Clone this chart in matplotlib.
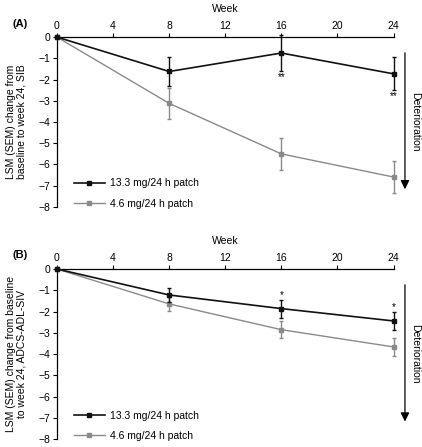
import matplotlib
matplotlib.use('Agg')
import matplotlib.pyplot as plt
from matplotlib.lines import Line2D

plt.rcParams['font.family'] = ['Liberation Sans', 'DejaVu Sans']
plt.rcParams['font.size'] = 7.5

# data
weeks = [0, 8, 16, 24]
week_ticks = [0, 4, 8, 12, 16, 20, 24]
y_ticks = [0, -1, -2, -3, -4, -5, -6, -7, -8]
labels = ['13.3 mg/24 h patch', '4.6 mg/24 h patch']

sib_high = [0, -1.62, -0.75, -1.73]
sib_high_sem = [0, 0.67, 0.83, 0.77]
sib_low = [0, -3.12, -5.50, -6.59]
sib_low_sem = [0, 0.72, 0.75, 0.77]
sib_stars = ['', '', '**', '**']

adl_high = [0, -1.22, -1.86, -2.44]
adl_high_sem = [0, 0.34, 0.42, 0.43]
adl_low = [0, -1.64, -2.85, -3.66]
adl_low_sem = [0, 0.33, 0.40, 0.44]
adl_stars = ['', '', '*', '*']

black = '#111111'
grey = '#8a8a8a'

fig = plt.figure(figsize=(4.22, 4.47), dpi=100)
axA = fig.add_axes([0.135, 0.537, 0.7975, 0.380])
axB = fig.add_axes([0.135, 0.0172, 0.7975, 0.381])


def panel(ax, high, high_sem, low, low_sem, stars, below, ylabel, tag):
	ax.errorbar(weeks, low, yerr=low_sem, color=grey, lw=1.0, marker='s', ms=3.3,
		capsize=1.6, elinewidth=1.0, clip_on=False, zorder=3)
	ax.errorbar(weeks, high, yerr=high_sem, color=black, lw=1.2, marker='s', ms=3.3,
		capsize=1.6, elinewidth=1.0, clip_on=False, zorder=4)
	for i in range(len(weeks)):
		if stars[i]:
			if below:
				ax.text(weeks[i], high[i] - high_sem[i] - 0.3, stars[i], ha='center', va='center', fontsize=7)
			else:
				ax.text(weeks[i], high[i] + high_sem[i] + 0.22, stars[i], ha='center', va='center', fontsize=7)
	ax.set_xlim(0, 24)
	ax.set_ylim(-8, 0)
	ax.xaxis.tick_top()
	ax.xaxis.set_label_position('top')
	ax.set_xticks(week_ticks)
	ax.set_yticks(y_ticks)
	ax.spines['bottom'].set_visible(False)
	ax.spines['right'].set_visible(False)
	ax.spines['top'].set_linewidth(0.9)
	ax.spines['left'].set_linewidth(0.9)
	ax.tick_params(length=3, width=0.8, pad=1.5)
	ax.set_xlabel('Week', labelpad=6.5)
	ax.set_ylabel(ylabel, linespacing=1.1)
	ax.yaxis.set_label_coords(-0.09, 0.5)
	handles = [Line2D([], [], color=black, lw=1.2, marker='s', ms=3),
		Line2D([], [], color=grey, lw=1.0, marker='s', ms=3)]
	ax.legend(handles, labels, loc='lower left', bbox_to_anchor=(0.022, -0.065), frameon=False,
		handlelength=3.0, handletextpad=0.5, labelspacing=1.0)
	ax.annotate('', xy=(1.034, 0.088), xytext=(1.034, 0.924), xycoords='axes fraction',
		arrowprops=dict(arrowstyle='-|>', color='black', lw=0.9, mutation_scale=13), annotation_clip=False)
	ax.text(1.064, 0.5, 'Deterioration', transform=ax.transAxes, rotation=270, ha='center', va='center')
	ax.text(-0.11, 1.08, tag, transform=ax.transAxes, fontweight='bold', fontsize=8, ha='center', va='center')


panel(axA, sib_high, sib_high_sem, sib_low, sib_low_sem, sib_stars, True,
	'LSM (SEM) change from\nbaseline to week 24, SIB', '(A)')
panel(axB, adl_high, adl_high_sem, adl_low, adl_low_sem, adl_stars, False,
	'LSM (SEM) change from baseline\nto week 24, ADCS-ADL-SIV', '(B)')

plt.savefig('out.png', dpi=100)
